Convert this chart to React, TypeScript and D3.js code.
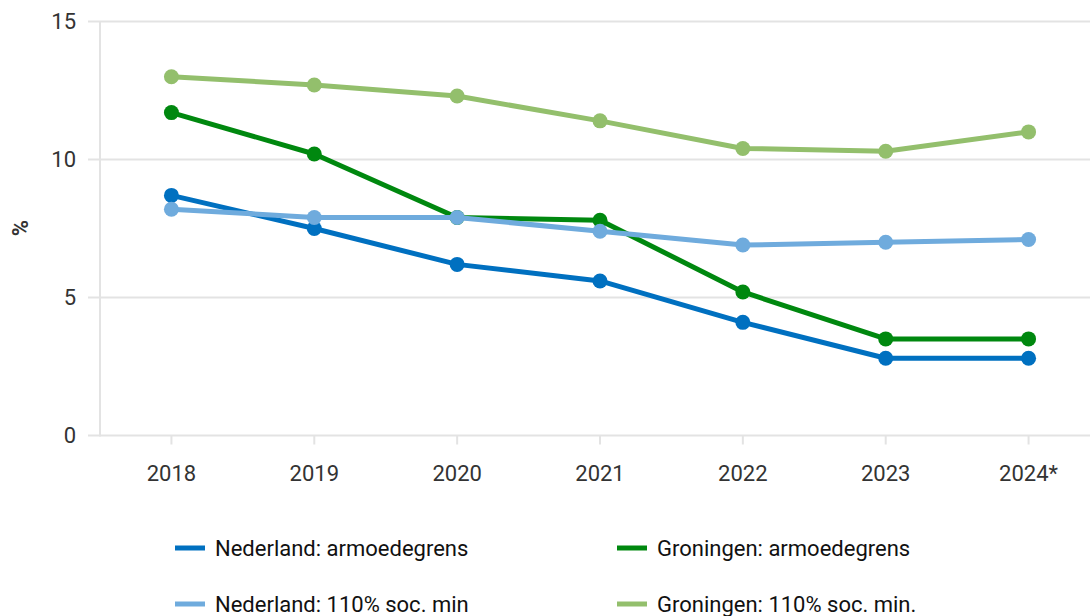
import React from "react";
import * as d3 from "d3";

const years = ["2018", "2019", "2020", "2021", "2022", "2023", "2024*"];
const nlArmoede = [8.7, 7.5, 6.2, 5.6, 4.1, 2.8, 2.8];
const grArmoede = [11.7, 10.2, 7.9, 7.8, 5.2, 3.5, 3.5];
const nlSocMin = [8.2, 7.9, 7.9, 7.4, 6.9, 7.0, 7.1];
const grSocMin = [13.0, 12.7, 12.3, 11.4, 10.4, 10.3, 11.0];
const yTicks = [0, 5, 10, 15];

const seriesNames = [
  "Nederland: armoedegrens",
  "Groningen: armoedegrens",
  "Nederland: 110% soc. min",
  "Groningen: 110% soc. min.",
];
const seriesColors = ["#0070c0", "#00880f", "#6fabdd", "#93bf6c"];
const seriesValues = [nlArmoede, grArmoede, nlSocMin, grSocMin];
// drawing order (back to front)
const drawOrder = [3, 1, 0, 2];

export default function App() {
  const W = 1090, H = 616;
  const x = d3.scalePoint<string>().domain(years).range([100, 1100]).padding(0.5);
  const y = d3.scaleLinear().domain([0, 15]).range([435.5, 21.5]);
  const line = d3.line<number>().x((_, i) => x(years[i])!).y((d) => y(d));
  const font = "Roboto, sans-serif";

  const legendPos = [
    [175, 548],
    [617, 548],
    [175, 604],
    [617, 604],
  ];

  return (
    <svg width={W} height={H} style={{ position: "absolute", left: 0, top: 0 }} fontFamily={font}>
      {yTicks.map((t) => (
        <g key={t}>
          <line x1={88} x2={1090} y1={y(t)} y2={y(t)} stroke="#e3e3e3" strokeWidth={2} />
          <text x={76} y={y(t)} dy="0.35em" textAnchor="end" fontSize={22} fill="#333">
            {t}
          </text>
        </g>
      ))}
      <line x1={100} x2={100} y1={y(15)} y2={y(0) + 1} stroke="#e3e3e3" strokeWidth={2} />
      {years.map((yr) => (
        <g key={yr}>
          <line x1={x(yr)} x2={x(yr)} y1={y(0)} y2={y(0) + 9} stroke="#e3e3e3" strokeWidth={2} />
          <text x={x(yr)} y={473} dy="0.35em" textAnchor="middle" fontSize={22} fill="#333">
            {yr}
          </text>
        </g>
      ))}
      <text
        transform={`translate(20,228) rotate(-90)`}
        textAnchor="middle"
        dy="0.35em"
        fontSize={22}
        fontWeight="bold"
        fill="#333"
      >
        %
      </text>
      {drawOrder.map((si) => (
        <g key={si}>
          <path d={line(seriesValues[si])!} fill="none" stroke={seriesColors[si]} strokeWidth={5} strokeLinejoin="round" />
          {seriesValues[si].map((v, i) => (
            <circle key={i} cx={x(years[i])} cy={y(v)} r={7.5} fill={seriesColors[si]} />
          ))}
        </g>
      ))}
      {seriesNames.map((n, i) => (
        <g key={n} transform={`translate(${legendPos[i][0]},${legendPos[i][1]})`}>
          <line x1={0} x2={30} y1={0} y2={0} stroke={seriesColors[i]} strokeWidth={5} />
          <text x={40} y={0} dy="0.35em" fontSize={22} fill="#111">
            {n}
          </text>
        </g>
      ))}
    </svg>
  );
}
